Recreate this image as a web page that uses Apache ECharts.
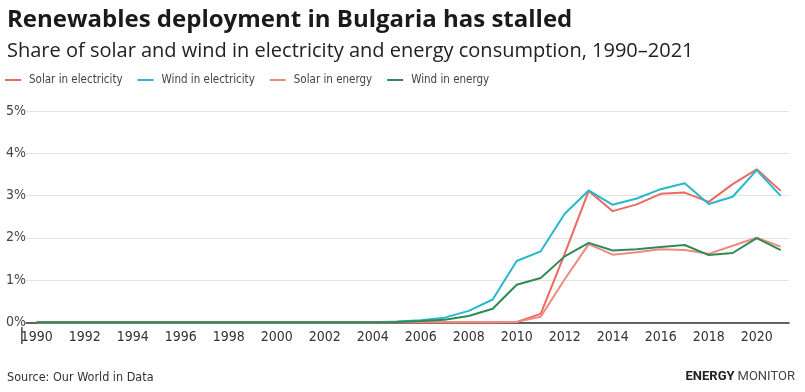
<!DOCTYPE html>
<html>
<head>
<meta charset="utf-8">
<script src="https://cdn.jsdelivr.net/npm/echarts@6/dist/echarts.min.js"></script>
<style>html,body{margin:0;padding:0;background:#fff}#c{width:805px;height:392px}</style>
</head>
<body>
<div id="c"></div>
<script>
var years = [];
for (var y = 1990; y <= 2021; y++) years.push(y);
var seriesNames = ['Solar in electricity', 'Wind in electricity', 'Solar in energy', 'Wind in energy'];
var solarElectricity = [0,0,0,0,0,0,0,0,0,0,0,0,0,0,0,0,0,0,0,0,0.01,0.2,1.62,3.11,2.63,2.79,3.04,3.07,2.85,3.27,3.62,3.11];
var windElectricity  = [0,0,0,0,0,0,0,0,0,0,0,0,0,0,0,0.02,0.05,0.11,0.27,0.54,1.45,1.68,2.57,3.12,2.78,2.93,3.15,3.29,2.80,2.97,3.60,2.99];
var solarEnergy      = [0,0,0,0,0,0,0,0,0,0,0,0,0,0,0,0,0,0,0,0,0.01,0.13,1.02,1.85,1.60,1.66,1.73,1.71,1.62,1.81,2.00,1.79];
var windEnergy       = [0,0,0,0,0,0,0,0,0,0,0,0,0,0,0,0.01,0.03,0.06,0.15,0.32,0.89,1.05,1.56,1.88,1.70,1.73,1.78,1.83,1.59,1.64,1.99,1.71];
var yTicks = [0,1,2,3,4,5];
var colors = ['#ec6a60', '#26b8cc', '#f08a7e', '#2e8b57'];

var narrow = '"DejaVu Sans Condensed", sans-serif';
function pairs(arr){ return years.map(function(yr,i){ return [yr, arr[i]]; }); }
var allData = [solarElectricity, windElectricity, solarEnergy, windEnergy];

var chart = echarts.init(document.getElementById('c'), null, {renderer:'canvas'});
chart.setOption({
  backgroundColor: '#fff',
  animation: false,
  title: [
    {text: 'Renewables deployment in Bulgaria has stalled', left: 2, top: 3,
     textStyle: {fontFamily: '"Open Sans", sans-serif', fontWeight: 'bold', fontSize: 24, color: '#1a1a1a'}},
    {text: 'Share of solar and wind in electricity and energy consumption, 1990\u20132021', left: 2, top: 36,
     textStyle: {fontFamily: '"Open Sans", sans-serif', fontWeight: 'normal', fontSize: 20, color: '#222'}},
    {text: 'Source: Our World in Data', left: 2, top: 366,
     textStyle: {fontFamily: narrow, fontWeight: 'normal', fontSize: 12.5, color: '#333'}},
    {text: '{b|ENERGY}{r|MONITOR}', right: 5, top: 365,
     textStyle: {rich: {
       b: {fontFamily: 'Roboto, sans-serif', fontWeight: 'bold', fontSize: 13, color: '#222'},
       r: {fontFamily: 'Roboto, sans-serif', fontWeight: 'normal', fontSize: 13, color: '#444', padding:[0,0,0,3]}
     }}}
  ],
  legend: {
    left: 5, top: 74, padding: 0,
    icon: 'rect', itemWidth: 16, itemHeight: 2, itemGap: 15,
    textStyle: {fontFamily: narrow, fontSize: 11.5, color: '#444', padding: [0,0,0,3]},
    data: seriesNames
  },
  grid: [
    {left: 26, right: 16, top: 111, bottom: 69.7},
    {left: 36.7, right: 24.3, top: 111, bottom: 69.7}
  ],
  xAxis: [
    {gridIndex: 0, type: 'value', min: 0, max: 1,
     axisLine: {show: true, lineStyle: {color: '#333', width: 1.5}},
     axisTick: {show: false}, axisLabel: {show: false}, splitLine: {show: false}},
    {gridIndex: 1, type: 'value', min: years[0], max: years[years.length-1], interval: 2,
     axisLine: {show: false}, axisTick: {show: false}, splitLine: {show: false},
     axisLabel: {margin: 8, fontFamily: narrow, fontSize: 14, color: '#333',
       formatter: function(v){ return v % 2 === 0 ? String(v) : ''; }}}
  ],
  yAxis: [
    {gridIndex: 0, type: 'value', min: yTicks[0], max: yTicks[yTicks.length-1], interval: 1,
     axisLine: {show: false}, axisTick: {show: false},
     splitLine: {show: true, lineStyle: {color: '#e3e3e3', width: 1}},
     axisLabel: {align: 'left', margin: 20, fontFamily: narrow, fontSize: 14, color: '#444',
       formatter: '{value}%'}},
    {gridIndex: 1, type: 'value', min: yTicks[0], max: yTicks[yTicks.length-1], show: false}
  ],
  graphic: [
    {type: 'rect', shape: {x: 21, y: 327, width: 1.6, height: 17}, style: {fill: '#555'}}
  ],
  series: seriesNames.map(function(name, i){
    return {
      name: name, type: 'line', xAxisIndex: 1, yAxisIndex: 1,
      data: pairs(allData[i]), showSymbol: false, symbol: 'none',
      color: colors[i],
      lineStyle: {width: 2, color: colors[i]}, clip: false
    };
  })
});
</script>
</body>
</html>
